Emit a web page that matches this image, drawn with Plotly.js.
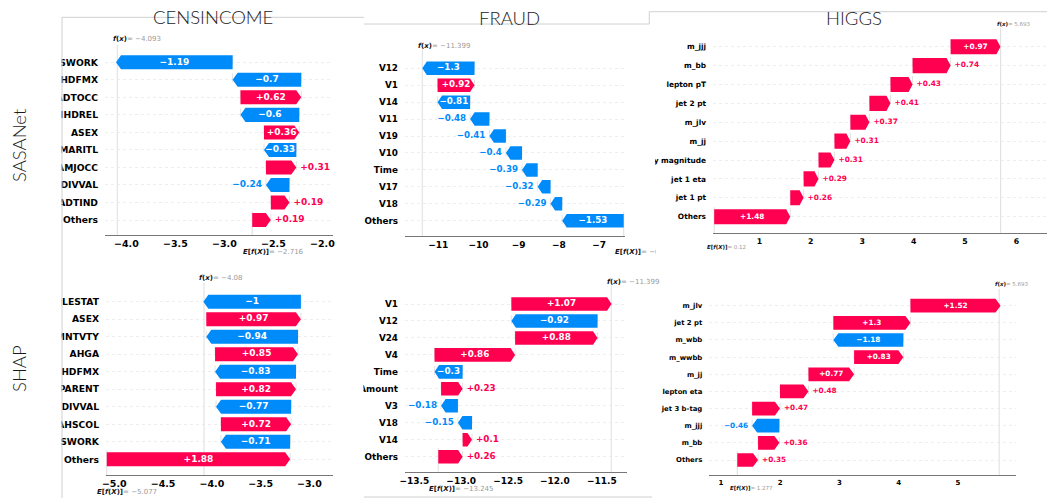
<!DOCTYPE html>
<html><head><meta charset="utf-8">
<script src="https://cdn.plot.ly/plotly-3.0.1.min.js"></script>
<style>html,body{margin:0;padding:0;background:#fff}#chart{width:1047px;height:498px}</style>
</head><body><div id="chart"></div>
<script>
// ---------------- data ----------------
const censSasanetFeatures = ["WKSWORK","HHDFMX","ADTOCC","HHDREL","ASEX","AMARITL","AMJOCC","DIVVAL","ADTIND","Others"];
const censSasanetValues   = [-1.19,-0.7,0.62,-0.6,0.36,-0.33,0.31,-0.24,0.19,0.19];
const censSasanetBase = -2.716, censSasanetFx = -4.093;

const fraudSasanetFeatures = ["V12","V1","V14","V11","V19","V10","Time","V17","V18","Others"];
const fraudSasanetValues   = [-1.3,0.92,-0.81,-0.48,-0.41,-0.4,-0.39,-0.32,-0.29,-1.53];
const fraudSasanetBase = -6.389, fraudSasanetFx = -11.399;

const higgsSasanetFeatures = ["m_jjj","m_bb","lepton pT","jet 2 pt","m_jlv","m_jj","missing energy magnitude","jet 1 eta","jet 1 pt","Others"];
const higgsSasanetValues   = [0.97,0.74,0.43,0.41,0.37,0.31,0.31,0.29,0.26,1.48];
const higgsSasanetBase = 0.12, higgsSasanetFx = 5.693;

const censShapFeatures = ["FILESTAT","ASEX","PEMNTVTY","AHGA","HHDFMX","PARENT","DIVVAL","AHSCOL","WKSWORK","Others"];
const censShapValues   = [-1,0.97,-0.94,0.85,-0.83,0.82,-0.77,0.72,-0.71,1.88];
const censShapBase = -5.077, censShapFx = -4.08;

const fraudShapFeatures = ["V1","V12","V24","V4","Time","Amount","V3","V18","V14","Others"];
const fraudShapValues   = [1.07,-0.92,0.88,0.86,-0.3,0.23,-0.18,-0.15,0.1,0.26];
const fraudShapBase = -13.245, fraudShapFx = -11.399;

const higgsShapFeatures = ["m_jlv","jet 2 pt","m_wbb","m_wwbb","m_jj","lepton eta","jet 3 b-tag","m_jjj","m_bb","Others"];
const higgsShapValues   = [1.52,1.3,-1.18,0.83,0.77,0.48,0.47,-0.46,0.36,0.35];
const higgsShapBase = 1.277, higgsShapFx = 5.693;

const columnTitles = ["CENSINCOME","FRAUD","HIGGS"];
const rowTitles = ["SASANet","SHAP"];

// ---------------- styling / layout ----------------
const W = 1047, H = 498;
const RED = '#ff0051', BLUE = '#008bfb';
const FONT = 'DejaVu Sans';

const panels = [
 {feat:censSasanetFeatures, vals:censSasanetValues, base:censSasanetBase, fx:censSasanetFx,
  px:[105,333], xr:[-4.218,-1.892], rowTop:62.3, rowBot:220, axisY:235, domTop:45,
  yFont:9.2, vFont:9, xFont:9.5, annFont:7, dtick:0.5, fmt:'.1f', head:5, inside:31.4, gap:4,
  fLab:{y:39.3,l:-4.6}, eLab:{y:252,l:-9.6}},
 {feat:fraudSasanetFeatures, vals:fraudSasanetValues, base:fraudSasanetBase, fx:fraudSasanetFx,
  px:[405,625], xr:[-11.829,-6.357], rowTop:68.3, rowBot:220.7, axisY:236, domTop:50,
  yFont:8.8, vFont:8.7, xFont:9, annFont:7, dtick:1, fmt:'d', head:4.5, inside:26, gap:4,
  fLab:{y:45.7,l:-4}, eLab:{y:252,l:-8.7}},
 {feat:higgsSasanetFeatures, vals:higgsSasanetValues, base:higgsSasanetBase, fx:higgsSasanetFx,
  px:[713,1047], xr:[0.097,6.595], rowTop:46.7, rowBot:216.7, axisY:233.3, domTop:28,
  yFont:7.4, vFont:7.4, xFont:7.8, annFont:5.5, dtick:1, fmt:'d', head:4, inside:44, gap:4,
  fLab:{y:24,l:-3.3}, eLab:{y:247,l:-7.3}},
 {feat:censShapFeatures, vals:censShapValues, base:censShapBase, fx:censShapFx,
  px:[106,333.3], xr:[-5.085,-2.755], rowTop:301.7, rowBot:459.3, axisY:475, domTop:283,
  yFont:9.2, vFont:9, xFont:9.5, annFont:7, dtick:0.5, fmt:'.1f', head:5, inside:0, gap:4,
  fLab:{y:278.3,l:-4.7}, eLab:{y:491.5,l:-9.4}},
 {feat:fraudShapFeatures, vals:fraudShapValues, base:fraudShapBase, fx:fraudShapFx,
  px:[405,626.7], xr:[-13.600,-11.234], rowTop:304, rowBot:456.7, axisY:471.7, domTop:286,
  yFont:8.8, vFont:8.8, xFont:9, annFont:7, dtick:0.5, fmt:'.1f', head:4.5, inside:26, gap:4,
  fLab:{y:281.7,l:-4.6}, eLab:{y:488.5,l:-9}},
 {feat:higgsShapFeatures, vals:higgsShapValues, base:higgsShapBase, fx:higgsShapFx,
  px:[709.3,1015.7], xr:[0.805,5.972], rowTop:305.7, rowBot:460, axisY:475.3, domTop:289,
  yFont:6.9, vFont:7.3, xFont:7, annFont:5.5, dtick:1, fmt:'d', head:5, inside:37, gap:4,
  fLab:{y:284,l:-4.3}, eLab:{y:488,l:-7.3}}
];

function strip(s){ if (s.indexOf('.')>=0) s = s.replace(/0+$/,'').replace(/\.$/,''); return s; }
function signed(v){ return (v<0?'\u2212':'+') + strip(Math.abs(v).toFixed(2)); }
function plain(v){ return (v<0?'\u2212':'') + strip(Math.abs(v).toFixed(3)); }
const px2x = x => x/W, py2y = y => 1 - y/H;

const data = [], shapes = [], annotations = [];
const layout = {width:W, height:H, margin:{l:0,r:0,t:0,b:0}, paper_bgcolor:'#ffffff',
  plot_bgcolor:'rgba(0,0,0,0)', showlegend:false, hovermode:false};

panels.forEach((p,k)=>{
  const n = k+1, sfx = n===1 ? '' : String(n);
  const xa = 'x'+sfx, ya = 'y'+sfx;
  const N = p.feat.length;
  const sp = (p.rowBot - p.rowTop)/(N-1);
  const yr = [-(p.axisY - p.rowBot)/sp, (N-1) + (p.rowTop - p.domTop)/sp];
  const ppu = (p.px[1]-p.px[0])/(p.xr[1]-p.xr[0]);
  const hl = p.head/ppu, half = 0.4;

  // cumulative positions (from base value upward through the rows, bottom first)
  const starts = new Array(N), ends = new Array(N);
  let loc = p.base;
  for (let i=N-1;i>=0;i--){ starts[i]=loc; loc += p.vals[i]; ends[i]=loc; }

  const pos = {x:[],y:[]}, neg = {x:[],y:[]};
  const inTxt = {x:[],y:[],t:[]}, outPos = {x:[],y:[],t:[]}, outNeg = {x:[],y:[],t:[]};
  const conn = {x:[],y:[]};
  for (let i=0;i<N;i++){
    const v = p.vals[i], s = starts[i], e = ends[i], yc = N-1-i;
    const hd = Math.min(hl, Math.abs(v));
    const tgt = v>=0 ? pos : neg;
    const b = v>=0 ? e-hd : e+hd;
    tgt.x.push(s,b,e,b,s,s,null); tgt.y.push(yc-half,yc-half,yc,yc+half,yc+half,yc-half,null);
    const arrowPx = Math.abs(v)*ppu;
    if (arrowPx >= p.inside){ inTxt.x.push(s+v/2); inTxt.y.push(yc); inTxt.t.push(signed(v)); }
    else if (v>=0){ outPos.x.push(e+p.gap/ppu); outPos.y.push(yc); outPos.t.push(signed(v)); }
    else { outNeg.x.push(e-p.gap/ppu); outNeg.y.push(yc); outNeg.t.push(signed(v)); }
    if (i < N-1){ conn.x.push(s,s,null); conn.y.push(yc+half, yc-1-half, null); }
  }
  data.push({type:'scatter',mode:'lines',x:conn.x,y:conn.y,xaxis:xa,yaxis:ya,
    line:{color:'#cfcfcf',width:0.6,dash:'dash'},hoverinfo:'skip',cliponaxis:true});
  data.push({type:'scatter',mode:'lines',x:pos.x,y:pos.y,xaxis:xa,yaxis:ya,fill:'toself',
    fillcolor:RED,line:{width:0,color:RED},hoverinfo:'skip'});
  data.push({type:'scatter',mode:'lines',x:neg.x,y:neg.y,xaxis:xa,yaxis:ya,fill:'toself',
    fillcolor:BLUE,line:{width:0,color:BLUE},hoverinfo:'skip'});
  const tf = c => ({family:FONT,size:p.vFont,color:c,weight:'bold'});
  data.push({type:'scatter',mode:'text',x:inTxt.x,y:inTxt.y,text:inTxt.t,xaxis:xa,yaxis:ya,
    textposition:'middle center',textfont:tf('#ffffff'),cliponaxis:false,hoverinfo:'skip'});
  data.push({type:'scatter',mode:'text',x:outPos.x,y:outPos.y,text:outPos.t,xaxis:xa,yaxis:ya,
    textposition:'middle right',textfont:tf(RED),cliponaxis:false,hoverinfo:'skip'});
  data.push({type:'scatter',mode:'text',x:outNeg.x,y:outNeg.y,text:outNeg.t,xaxis:xa,yaxis:ya,
    textposition:'middle left',textfont:tf(BLUE),cliponaxis:false,hoverinfo:'skip'});

  layout['xaxis'+sfx] = {domain:[px2x(p.px[0]), Math.min(1,px2x(p.px[1]))], range:p.xr, anchor:ya,
    showline:true, linecolor:'#777', linewidth:1, ticks:'', tick0:0, dtick:p.dtick, tickformat:p.fmt,
    tickfont:{family:FONT,size:p.xFont,color:'#000',weight:'bold'}, showgrid:false, zeroline:false, fixedrange:true};
  const tv = [], tt = [];
  for (let i=0;i<N;i++){ tv.push(N-1-i); tt.push(p.feat[i]); }
  layout['yaxis'+sfx] = {domain:[py2y(p.axisY), py2y(p.domTop)], range:yr, anchor:xa,
    tickmode:'array', tickvals:tv, ticktext:tt, ticks:'', ticklabelstandoff:6,
    tickfont:{family:FONT,size:p.yFont,color:'#000',weight:'bold'},
    showline:false, showgrid:true, gridcolor:'#e2e2e2', griddash:'dot', gridwidth:0.6,
    zeroline:false, fixedrange:true};

  // f(x) line (full height) and E[f(X)] line (bottom row)
  shapes.push({type:'line', xref:xa, yref:ya+' domain', x0:p.fx, x1:p.fx, y0:0, y1:1,
    line:{color:'#d6d6d6', width:0.8}, layer:'below'});
  shapes.push({type:'line', xref:xa, yref:ya, x0:p.base, x1:p.base, y0:yr[0], y1:0.5,
    line:{color:'#d6d6d6', width:0.8}, layer:'below'});

  const lab = (x, L, head, val) => annotations.push({xref:xa, yref:'paper', x:x, y:py2y(L.y),
    xanchor:'left', yanchor:'middle', xshift:L.l, showarrow:false, borderpad:0, borderwidth:0,
    text:'<b>'+head+'</b><span style="color:#9a9a9a">= '+val+'</span>',
    font:{family:FONT,size:p.annFont,color:'#111'}});
  lab(p.fx, p.fLab, '<i>f</i>(<i>x</i>)', plain(p.fx));
  lab(p.base, p.eLab, '<i>E</i>[<i>f</i>(<i>X</i>)]', plain(p.base));
});

// mask: FRAUD E[f(X)] label is cut by the HIGGS panel
annotations.push({xref:'paper',yref:'paper',x:px2x(656),y:py2y(252),xanchor:'left',yanchor:'middle',
  text:' ',width:48,height:14,bgcolor:'#ffffff',showarrow:false,borderpad:0,borderwidth:0,font:{size:8}});

// column and row titles
const titleFont = {family:'Lato, Noto Sans, sans-serif', size:18.5, color:'#1a1a1a', weight:300};
const colX = [213, 509.3, 854], colY = [17.3, 18.3, 18.3];
columnTitles.forEach((t,i)=>annotations.push({xref:'paper',yref:'paper',x:px2x(colX[i]),y:py2y(colY[i]),
  xanchor:'center',yanchor:'middle',text:t,showarrow:false,font:titleFont}));
const rowY = [145, 369];
rowTitles.forEach((t,i)=>annotations.push({xref:'paper',yref:'paper',x:px2x(19),y:py2y(rowY[i]),
  xanchor:'center',yanchor:'middle',text:t,textangle:-90,showarrow:false,font:titleFont}));

// masks that crop feature names at the panel borders (tick labels sit below 'above' shapes)
const rectPx = (x0,y0,x1,y1) => ({type:'rect',xref:'paper',yref:'paper',x0:px2x(x0),x1:px2x(x1),
  y0:py2y(y1),y1:py2y(y0),fillcolor:'#ffffff',line:{width:0},layer:'above'});
shapes.push(rectPx(30,25,61.5,480));
shapes.push(rectPx(560,154,655,166.5));
shapes.push(rectPx(336,290,363.5,470));
// thin panel-border lines of the composed figure
const linePx = (x0,y0,x1,y1) => ({type:'line',xref:'paper',yref:'paper',x0:px2x(x0),x1:px2x(x1),
  y0:py2y(y0),y1:py2y(y1),line:{color:'#d0d0d0',width:1},layer:'above'});
shapes.push(linePx(62,17.3,364,17.3));
shapes.push(linePx(364,24,649.3,24));
shapes.push(linePx(649.3,11.7,649.3,24));
shapes.push(linePx(649.3,11.7,1047,11.7));
shapes.push(linePx(62,17.3,62,498));
shapes.push(linePx(364,497,652,497));

layout.shapes = shapes;
layout.annotations = annotations;
Plotly.newPlot('chart', data, layout, {displayModeBar:false, staticPlot:true});
</script>
</body></html>
